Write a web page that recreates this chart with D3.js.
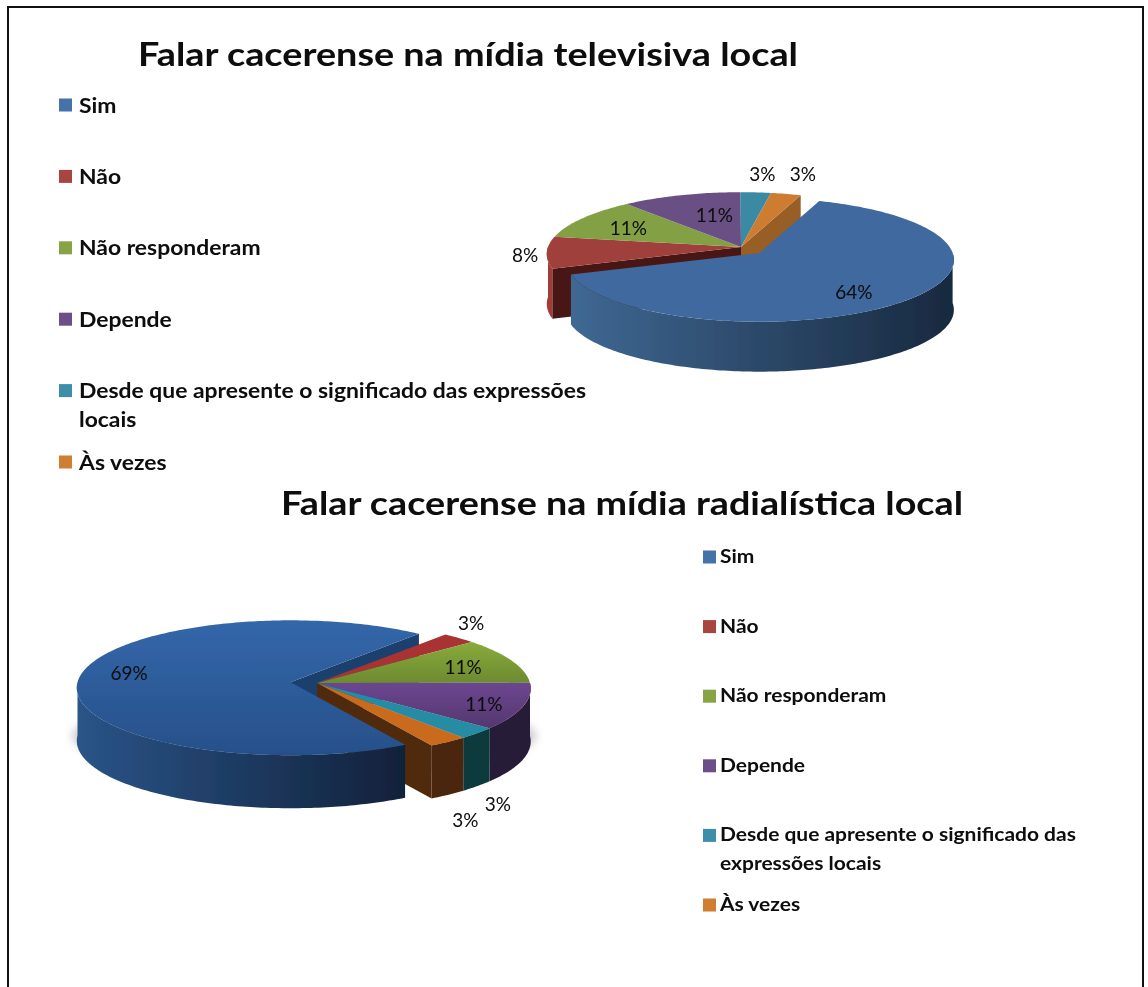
<!DOCTYPE html>
<html>
<head>
<meta charset="utf-8">
<script src="https://cdn.jsdelivr.net/npm/d3@7"></script>
<style>
  body { margin: 0; background: #fff; }
  text { font-family: Lato, "Open Sans", sans-serif; fill: #0a0a0a; }
</style>
</head>
<body>
<div id="chart"></div>
<script>
var categories = ["Sim", "Não", "Não responderam", "Depende", "Desde que apresente o significado das expressões locais", "Às vezes"];
var tvValues = [63.9, 8.3, 11.1, 11.1, 2.8, 2.8];
var radioValues = [69.4, 2.8, 11.1, 11.1, 2.8, 2.8];
var tvTitle = "Falar cacerense na mídia televisiva local";
var radioTitle = "Falar cacerense na mídia radialística local";

var legendColors = ["#4472a8", "#a8443f", "#86a445", "#6c5088", "#3c8ea8", "#d07f33"];

var width = 1148, height = 987;
var deg = Math.PI / 180;

var svg = d3.select("#chart").append("svg")
	.attr("width", width)
	.attr("height", height)
	.style("display", "block");

var defs = svg.append("defs");
defs.append("filter").attr("id", "soft").append("feGaussianBlur").attr("stdDeviation", 0.5);
defs.append("filter").attr("id", "softText").append("feGaussianBlur").attr("stdDeviation", 0.3);
var shadowFilter = defs.append("filter").attr("id", "shadow")
	.attr("x", "-10%").attr("y", "-20%").attr("width", "120%").attr("height", "140%");
shadowFilter.append("feGaussianBlur").attr("stdDeviation", 4);

// frame, runs off the bottom of the page
svg.append("path")
	.attr("d", "M8," + (height + 5) + "V7H1143V" + (height + 5))
	.attr("fill", "none")
	.attr("stroke", "#111")
	.attr("stroke-width", 2);

function gradient(id, c0, c1, vertical) {
	var g = defs.append("linearGradient").attr("id", id)
		.attr("x1", 0).attr("y1", 0)
		.attr("x2", vertical ? 0 : 1).attr("y2", vertical ? 1 : 0);
	g.append("stop").attr("offset", "0%").attr("stop-color", c0);
	g.append("stop").attr("offset", "100%").attr("stop-color", c1);
	return "url(#" + id + ")";
}

function drawPie(opt) {
	var slices = d3.pie().sort(null).value(function(d) { return d; })
		.startAngle(opt.start * deg)
		.endAngle(opt.start * deg + 2 * Math.PI)(opt.values);

	// r is a fraction of the radius, a is clockwise from the top
	function project(a, r, base) {
		var c = Math.cos(a), s = 1 / (1 + opt.persp * r * c);
		return [opt.rx * r * Math.sin(a) * s + base[0], -opt.tilt * r * c * s + base[1]];
	}
	function rim(a0, a1, base, dy) {
		var n = Math.max(2, Math.ceil(Math.abs(a1 - a0) / deg));
		return d3.range(n + 1).map(function(i) {
			var p = project(a0 + (a1 - a0) * i / n, 1, base);
			return [p[0], p[1] + dy];
		});
	}
	var line = d3.line();
	var g = svg.append("g").attr("filter", "url(#soft)");

	function centerOf(i) {
		if (i !== 0) return opt.center;
		var mid = (slices[0].startAngle + slices[0].endAngle) / 2;
		var p = project(mid, opt.explode, [0, 0]);
		// the slice is pulled out along the ground plane
		return [opt.center[0] + p[0], opt.center[1] + p[1]];
	}

	function wall(i, a) {
		var base = centerOf(i), p = project(a, 1, base);
		g.append("path")
			.attr("d", line([base, p, [p[0], p[1] + opt.depth], [base[0], base[1] + opt.depth]]) + "Z")
			.attr("fill", opt.wallColors[i]);
	}

	function side(i) {
		var a0 = slices[i].startAngle, a1 = slices[i].endAngle;
		if (a0 >= 2 * Math.PI) { a0 -= 2 * Math.PI; a1 -= 2 * Math.PI; }
		var lo = Math.max(a0, 90 * deg), hi = Math.min(a1, 270 * deg);
		if (hi <= lo) return;
		var base = centerOf(i);
		var top = rim(lo, hi, base, 0), bottom = rim(hi, lo, base, opt.depth);
		g.append("path")
			.attr("d", line(top.concat(bottom)) + "Z")
			.attr("fill", opt.sideFills[i]);
	}

	function face(i) {
		var base = centerOf(i);
		var pts = [base].concat(rim(slices[i].startAngle, slices[i].endAngle, base, 0));
		g.append("path")
			.attr("d", line(pts) + "Z")
			.attr("fill", opt.topFills[i]);
	}

	// the pulled out slice: hidden wall first, everything else, then the slice itself
	if (Math.sin(slices[0].endAngle) > 0) wall(0, slices[0].endAngle);

	var first = slices[1].startAngle, last = slices[slices.length - 1].endAngle;
	if (Math.sin(first) < 0) wall(1, first);
	d3.range(1, slices.length).forEach(side);
	if (Math.sin(last) > 0) wall(slices.length - 1, last);
	d3.range(1, slices.length).forEach(face);

	side(0);
	face(0);

	// data labels
	slices.forEach(function(d, i) {
		var mid = (d.startAngle + d.endAngle) / 2;
		var pl = opt.labelPlace[i];
		var p = project(mid, pl[0], centerOf(i));
		svg.append("text")
			.attr("x", p[0] + pl[1])
			.attr("y", p[1] + pl[2])
			.attr("text-anchor", "middle")
			.attr("dominant-baseline", "central")
			.attr("filter", "url(#softText)")
			.style("font-size", "19px")
			.text(Math.round(d.value) + "%");
	});
}

function drawLegend(opt) {
	var y = d3.scaleLinear().domain([0, 5]).range([opt.y0, opt.y1]);
	categories.forEach(function(name, i) {
		svg.append("rect")
			.attr("x", opt.x)
			.attr("y", y(i) - opt.box / 2)
			.attr("width", opt.box)
			.attr("height", opt.box)
			.attr("filter", "url(#softText)")
			.attr("fill", legendColors[i]);
		// wrap on measured width
		var words = name.split(" "), lines = [], cur = "";
		var probe = svg.append("text").style("font-size", opt.size + "px").style("font-weight", 700);
		words.forEach(function(w) {
			var t = cur ? cur + " " + w : w;
			probe.text(t);
			if (probe.node().getComputedTextLength() > opt.wrap && cur) { lines.push(cur); cur = w; }
			else cur = t;
		});
		lines.push(cur);
		probe.remove();
		lines.forEach(function(l, j) {
			var t = svg.append("text")
				.attr("x", opt.x + opt.box + opt.gap)
				.attr("y", y(i) - 1 + j * 29)
				.attr("dominant-baseline", "central")
				.attr("filter", "url(#softText)")
				.style("font-size", opt.size + "px")
				.style("font-weight", 700)
				.text(l);
			// the original font is wider than Lato
			t.attr("textLength", t.node().getComputedTextLength() * opt.stretch)
				.attr("lengthAdjust", "spacingAndGlyphs");
		});
	});
}

function title(text, x, y, w) {
	svg.append("text")
		.attr("x", x)
		.attr("y", y)
		.attr("filter", "url(#softText)")
		.attr("textLength", w)
		.attr("lengthAdjust", "spacingAndGlyphs")
		.style("font-size", "33px")
		.style("font-weight", 700)
		.text(text);
}

title(tvTitle, 138, 66, 660);
title(radioTitle, 281, 515, 682);

drawLegend({x: 59, box: 13, gap: 7, y0: 105, y1: 462, size: 21, wrap: 480, stretch: 1.09});
drawLegend({x: 703, box: 13, gap: 4, y0: 557, y1: 905, size: 18, wrap: 340, stretch: 1.165});

// television pie
var tvSim = gradient("tvSim", "#3f6893", "#18293f");
drawPie({
	values: tvValues,
	start: 20,
	center: [741, 247],
	rx: 193, tilt: 61, persp: 0.113, depth: 50, explode: 0.135,
	topFills: ["#3f6a9f", "#a0403d", "#83a044", "#6a4f85", "#3a8aa3", "#ce7b30"],
	sideFills: [tvSim, "#a03e3b", "#83a044", "#6a4f85", "#3a8aa3", "#ce7b30"],
	wallColors: ["#2a4668", "#4a1713", "#5c7030", "#4a3760", "#286070", "#975e27"],
	labelPlace: [[0.7, -7, 7], [1.1, -2, 2], [0.7, 0, 1], [0.5, 5, -5], [1.2, 4, -9], [1.2, 9, -11]]
});

// radio pie
svg.append("ellipse")
	.attr("cx", 304).attr("cy", 736).attr("rx", 232).attr("ry", 40)
	.attr("fill", "#ccc")
	.attr("filter", "url(#shadow)");
var radioSim = gradient("radioSim", "#2a5488", "#11213a");
var radioTop = gradient("radioTop", "#3367aa", "#27508a", true);
var radioGreen = gradient("radioGreen", "#88ab3c", "#6d8a30", true);
var radioPurple = gradient("radioPurple", "#6c4690", "#54386f", true);
drawPie({
	values: radioValues,
	start: 150,
	center: [317, 683],
	rx: 213, tilt: 67, persp: 0.0815, depth: 53, explode: 0.125,
	topFills: [radioTop, "#a93232", radioGreen, radioPurple, "#258ba5", "#c96a1c"],
	sideFills: [radioSim, "#7a2020", "#5c7030", "#261a38", "#113b3e", "#4a280b"],
	wallColors: ["#1b3f6e", "#7a2020", "#5c7030", "#261a38", "#113b3e", "#4f2a0c"],
	labelPlace: [[0.76, -1, -5], [1.15, -8, -9], [0.72, 5, 0], [0.8, 3, 2], [1.15, -5, 62], [1.15, -4, 68]]
});
</script>
</body>
</html>
